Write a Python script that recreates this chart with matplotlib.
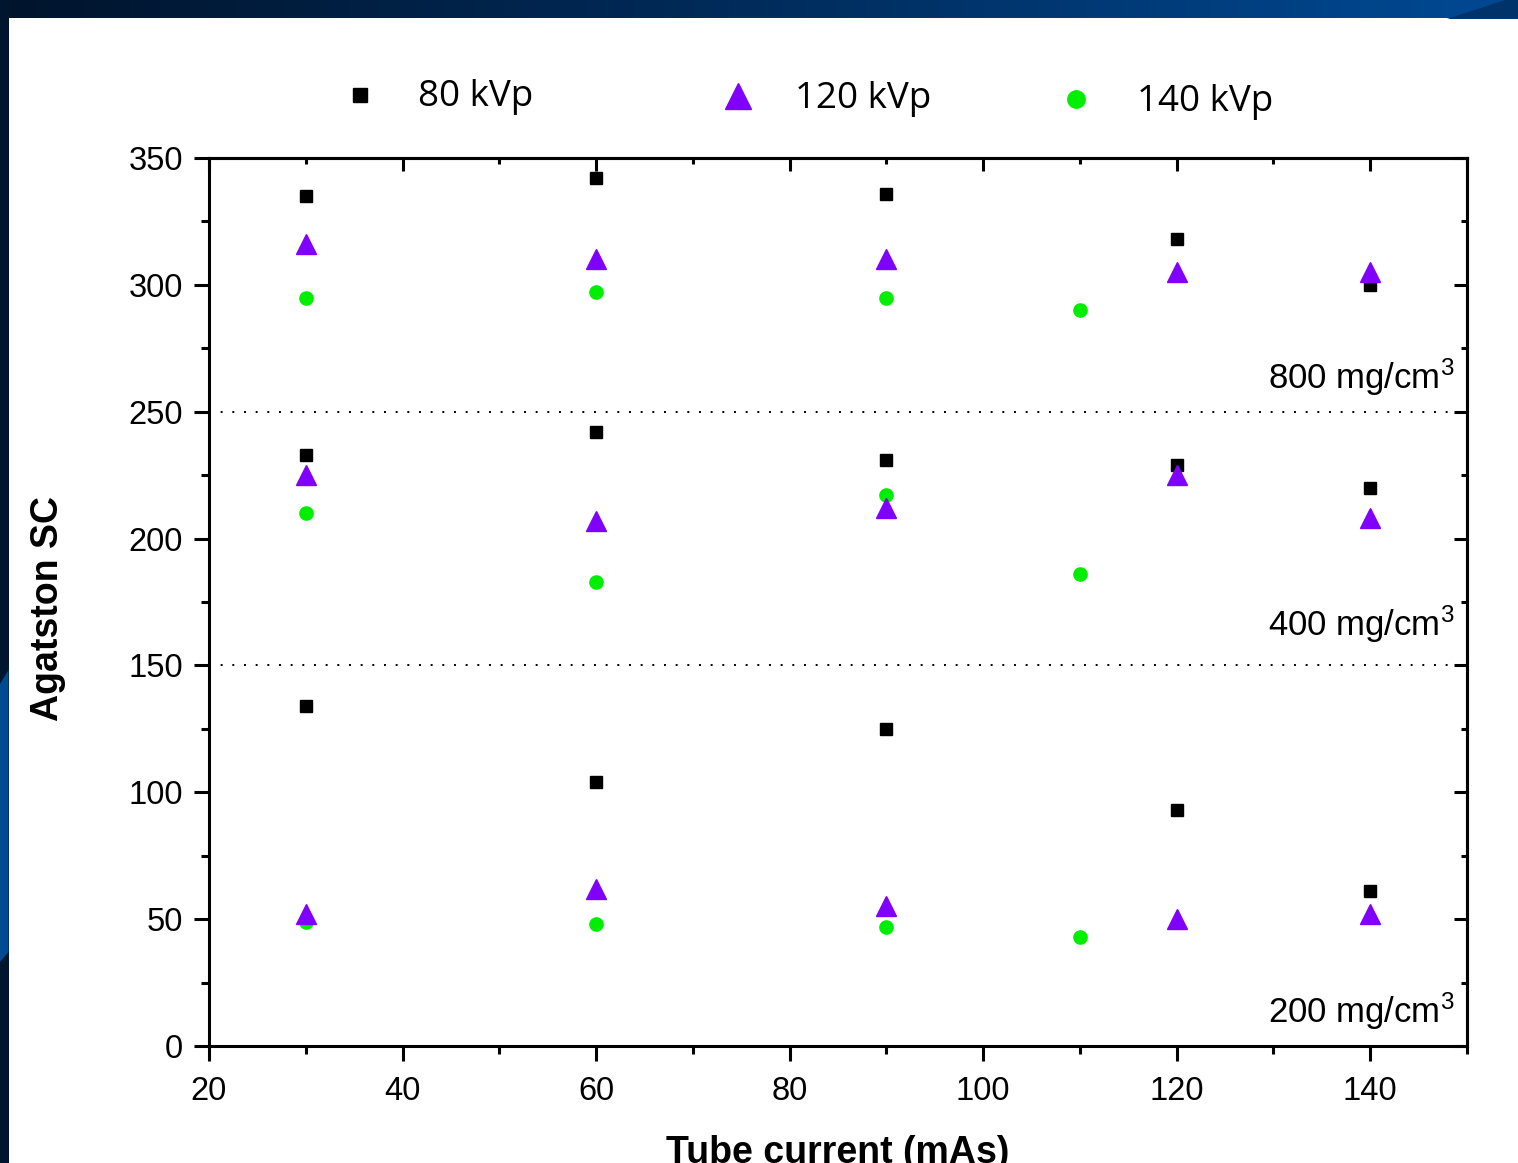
import numpy as np
import matplotlib.pyplot as plt
from matplotlib.lines import Line2D
from matplotlib.colors import LinearSegmentedColormap

# tube current settings (mAs) per tube voltage
currents_80 = [30, 60, 90, 120, 140]
currents_120 = [30, 60, 90, 120, 140]
currents_140 = [30, 60, 90, 110]

# Agatston score for each insert density
kvp80_800 = [335, 342, 336, 318, 300]
kvp80_400 = [233, 242, 231, 229, 220]
kvp80_200 = [134, 104, 125, 93, 61]

kvp120_800 = [316, 310, 310, 305, 305]
kvp120_400 = [225, 207, 212, 225, 208]
kvp120_200 = [52, 62, 55, 50, 52]

kvp140_800 = [295, 297, 295, 290]
kvp140_400 = [210, 183, 217, 186]
kvp140_200 = [49, 48, 47, 43]

series_labels = ['80 kVp', '120 kVp', '140 kVp']
density_labels = ['800 mg/cm$^{3}$', '400 mg/cm$^{3}$', '200 mg/cm$^{3}$']
density_text_y = [259, 161.5, 9]
group_bounds = [250, 150]

W, H = 1518, 1163

plt.rcParams['font.family'] = ['Liberation Sans', 'DejaVu Sans']
plt.rcParams['mathtext.fontset'] = 'custom'
plt.rcParams['mathtext.rm'] = 'Liberation Sans'
plt.rcParams['mathtext.it'] = 'Liberation Sans:italic'


def draw_background(fig):
    """slide frame: dark blue bars on top and left"""
    bg = fig.add_axes([0, 0, 1, 1], zorder=-10)
    cmap = LinearSegmentedColormap.from_list(
        'bar', [(0, '#00142c'), (0.5, '#002c5c'), (0.95, '#00478f'), (1, '#00478f')])
    grad = np.linspace(0, 1, 256).reshape(1, -1)
    bg.imshow(grad, cmap=cmap, aspect='auto', extent=(0, W, 18.5, 0))
    bg.fill([1447, W, W, 1505], [18.5, 18.5, 0, 0], color='#00336a', lw=0)
    bg.fill([0, 8.5, 8.5, 0], [0, 0, H, H], color='#00152e', lw=0)
    bg.fill([0, 8.5, 8.5, 0], [684, 670, 952, 962], color='#004a92', lw=0)
    bg.set_xlim(0, W)
    bg.set_ylim(H, 0)
    bg.axis('off')


def main():
    fig = plt.figure(figsize=(W / 100, H / 100), dpi=100)
    fig.patch.set_facecolor('white')
    draw_background(fig)

    ax = fig.add_axes([209 / W, 1 - 1046 / H, (1467 - 209) / W, (1046 - 158) / H])

    sq = dict(marker='s', color='black', ms=8.4, ls='none')
    tri = dict(marker='^', color='#8000ff', ms=14, ls='none')
    dot = dict(marker='o', color='#00ee00', ms=9.5, ls='none')

    for ys in (kvp80_800, kvp80_400, kvp80_200):
        ax.plot(currents_80, ys, zorder=3, **sq)
    for ys in (kvp120_800, kvp120_400, kvp120_200):
        ax.plot(currents_120, ys, zorder=4, **tri)
    for ys in (kvp140_800, kvp140_400, kvp140_200):
        ax.plot(currents_140, ys, zorder=2, **dot)

    # dotted separators between density groups
    for yb in group_bounds:
        ax.axhline(yb, color='black', lw=1.4, ls=(0, (1, 5)), zorder=1)

    for lab, yt in zip(density_labels, density_text_y):
        ax.text(148.7, yt, lab, ha='right', va='baseline', fontsize=25)

    ax.set_xlim(20, 150)
    ax.set_ylim(0, 350)
    ax.set_xticks(np.arange(20, 141, 20))
    ax.set_xticks(np.arange(30, 151, 20), minor=True)
    ax.set_yticks(np.arange(0, 351, 50))
    ax.set_yticks(np.arange(25, 351, 50), minor=True)

    for s in ax.spines.values():
        s.set_linewidth(2.2)
    ax.tick_params(which='major', direction='out', length=10.8, width=2.2, labelsize=23.5)
    ax.tick_params(which='minor', direction='out', length=5.8, width=2.2)
    ax.tick_params(axis='x', pad=11)
    ax.tick_params(axis='y', pad=8)

    # mirrored axes with inward ticks
    top = ax.secondary_xaxis('top')
    top.set_xticks(np.arange(20, 141, 20))
    top.set_xticks(np.arange(30, 151, 20), minor=True)
    top.tick_params(which='major', direction='in', length=9.4, width=2.2, labeltop=False)
    top.tick_params(which='minor', direction='in', length=4.5, width=2.2)
    top.spines['top'].set_linewidth(2.2)
    right = ax.secondary_yaxis('right')
    right.set_yticks(np.arange(0, 351, 50))
    right.set_yticks(np.arange(25, 351, 50), minor=True)
    right.tick_params(which='major', direction='in', length=9.4, width=2.2, labelright=False)
    right.tick_params(which='minor', direction='in', length=4.5, width=2.2)
    right.spines['right'].set_linewidth(2.2)

    ax.set_xlabel('Tube current (mAs)', fontsize=27, fontweight='bold')
    ax.xaxis.set_label_coords(0.5, -0.1)
    ax.set_ylabel('Agatston SC', fontsize=27, fontweight='bold')
    ax.yaxis.set_label_coords(-0.114, 0.493)

    # legend row above the plot
    handles = [
        Line2D([], [], marker='s', color='black', ms=10, ls='none'),
        Line2D([], [], marker='^', color='#8000ff', ms=19, ls='none'),
        Line2D([], [], marker='o', color='#00ee00', ms=12.5, ls='none'),
    ]
    marker_x = [360, 738, 1076]
    marker_y = [95, 96, 99]
    text_x = [418, 795, 1137]
    text_y = [97, 99, 102]
    for h, lab, mx, my, tx, ty in zip(handles, series_labels, marker_x, marker_y, text_x, text_y):
        h.set_data([mx / W], [1 - my / H])
        h.set_transform(fig.transFigure)
        fig.add_artist(h)
        fig.text(tx / W, 1 - ty / H, lab, ha='left', va='center', fontsize=26.5,
                 family=['Open Sans', 'DejaVu Sans'])

    plt.savefig('out.png', dpi=100)


if __name__ == "__main__":
    main()
